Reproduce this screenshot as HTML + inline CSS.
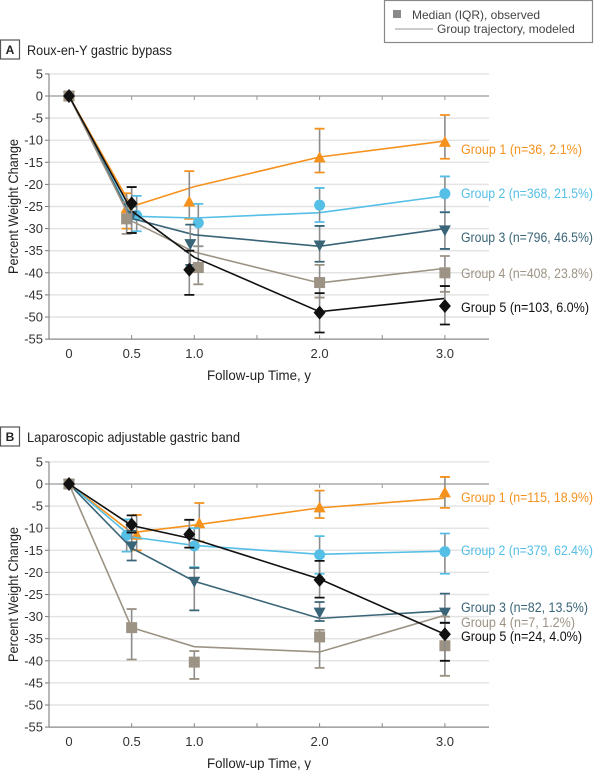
<!DOCTYPE html>
<html><head><meta charset="utf-8"><style>
html,body{margin:0;padding:0;background:#fff;}
svg{display:block;font-family:"Liberation Sans",Arial,sans-serif;}
</style></head><body>
<svg id="chart" width="600" height="770" viewBox="0 0 600 770">
<g>
<rect x="384.5" y="0.5" width="208" height="42" fill="#fff" stroke="#888" stroke-width="1.2"/>
<rect x="393" y="10" width="8" height="8" fill="#8a8a8a"/>
<text x="412" y="19" font-size="12" fill="#444">Median (IQR), observed</text>
<line x1="395" y1="29" x2="433" y2="29" stroke="#999" stroke-width="1"/>
<text x="437" y="33" font-size="12" fill="#444">Group trajectory, modeled</text>
</g>
</svg>
<script>
const years = [0, 0.5, 1.0, 2.0, 3.0];
const yTicks = [5,0,-5,-10,-15,-20,-25,-30,-35,-40,-45,-50,-55];
const xTickLabels = ["0","0.5","1.0","2.0","3.0"];
const groupNames = ["Group 1","Group 2","Group 3","Group 4","Group 5"];
// Panel A: Roux-en-Y
const aLabels = ["Group 1 (n=36,  2.1%)","Group 2 (n=368, 21.5%)","Group 3 (n=796, 46.5%)","Group 4 (n=408, 23.8%)","Group 5 (n=103,  6.0%)"];
const aObs1=[0,-25.5,-24,-14,-10.5], aLo1=[0,-30,-27.8,-17.3,-14.2], aHi1=[0,-22,-17,-7.4,-4.3], aMod1=[0,-25,-20.5,-13.8,-10.2];
const aObs2=[0,-27,-28.7,-24.7,-22.1], aLo2=[0,-30.6,-34,-28.5,-26.3], aHi2=[0,-22.6,-24.4,-20.8,-18.2], aMod2=[0,-27.2,-27.6,-26.4,-22.6];
const aObs3=[0,-27,-33.4,-33.7,-30.3], aLo3=[0,-31,-38.2,-37.5,-34.6], aHi3=[0,-25,-29.1,-29.4,-26.3], aMod3=[0,-27.7,-31.4,-34,-30];
const aObs4=[0,-27.8,-38.8,-42.2,-40], aLo4=[0,-31.2,-42.6,-45.6,-44.3], aHi4=[0,-24,-34,-38.2,-36.2], aMod4=[0,-28.3,-35.3,-42.3,-39];
const aObs5=[0,-24.3,-39.3,-49,-47.5], aLo5=[0,-31,-45,-53.5,-51.7], aHi5=[0,-20.6,-35,-44.6,-43], aMod5=[0,-26,-36.5,-48.8,-45.8];
// Panel B: Gastric band
const bLabels = ["Group 1 (n=115, 18.9%)","Group 2 (n=379, 62.4%)","Group 3 (n=82, 13.5%)","Group 4 (n=7,  1.2%)","Group 5 (n=24,  4.0%)"];
const bObs1=[0,-11.6,-9,-5.4,-2], bLo1=[0,-15,-13,-7.7,-5.4], bHi1=[0,-7,-4.3,-1.5,1.6], bMod1=[0,-11,-9.3,-5.4,-3.2];
const bObs2=[0,-11.6,-14,-16,-15.3], bLo2=[0,-15.3,-18.8,-20.3,-20.3], bHi2=[0,-8,-10,-11.8,-11.2], bMod2=[0,-12,-13.9,-15.9,-15.2];
const bObs3=[0,-14,-22,-29,-29], bLo3=[0,-17.3,-28.6,-31,-31.4], bHi3=[0,-10.6,-19,-26.7,-24.8], bMod3=[0,-14.5,-22,-30.4,-28.7];
const bObs4=[0,-32.5,-40.3,-34.6,-36.6], bLo4=[0,-39.7,-44.1,-41.6,-43.4], bHi4=[0,-28.3,-37.8,-33,-30], bMod4=[0,-32.5,-36.8,-38,-29.7];
const bObs5=[0,-9.2,-11.4,-21.7,-34], bLo5=[0,-11,-14.4,-25.7,-40], bHi5=[0,-7.1,-8.1,-17.4,-31.4], bMod5=[0,-9.4,-12.5,-21.5,-34];

const colors=["#f5921e","#55bfe6","#3a6477","#9c9384","#111111"];
const shapes=["tri","circle","tridown","square","diamond"];
const NS="http://www.w3.org/2000/svg";
const svg=document.getElementById('chart');
function mk(tag,attrs,parent){const e=document.createElementNS(NS,tag);for(const k in attrs)e.setAttribute(k,attrs[k]);(parent||svg).appendChild(e);return e;}

function drawPanel(cfg){
  const X0=69, PX=125.3, left=49, right=489;
  const xs=v=>X0+v*PX;
  const ys=v=>cfg.y0-v*(22.1/5);
  const g=mk('g',{});
  
  
  const b=mk('rect',{x:0.5,y:cfg.titleY-10,width:19,height:19,fill:'#fff',stroke:'#555','stroke-width':1.2},g);
  
  
  const bt=mk('text',{x:10,y:cfg.titleY+4,'font-size':12,'font-weight':'bold','text-anchor':'middle',fill:'#222'},g);
  bt.textContent=cfg.letter;
  
  
  const tt=mk('text',{x:27,y:cfg.titleY+5,'font-size':14,fill:'#222',textLength:cfg.titleLen,lengthAdjust:'spacingAndGlyphs'},g);
  tt.textContent=cfg.title;
  
  
  yTicks.forEach(t=>{
    const y=ys(t);
    if(t!==0 && t!==-55){const l=mk('line',{x1:left,x2:right,y1:y,y2:y,stroke:'#e4e4e4','stroke-width':1.5},g);
      
      }
    const tk=mk('line',{x1:left-4,x2:left,y1:y,y2:y,stroke:'#777'},g);
    
    
    const tx=mk('text',{x:left-6,y:y+4.5,'font-size':13,'text-anchor':'end',fill:'#333'},g);
    tx.textContent=String(t);
    
    
  });
  const zl=mk('line',{x1:left,x2:right,y1:ys(0),y2:ys(0),stroke:'#999','stroke-width':1.3},g);
  
  
  const ya=mk('line',{x1:left,x2:left,y1:ys(5),y2:ys(-55),stroke:'#888','stroke-width':1.2},g);
  
  
  const xa=mk('line',{x1:left,x2:right,y1:ys(-55),y2:ys(-55),stroke:'#888','stroke-width':1.2},g);
  
  
  for(let v=0.5;v<=3.01;v+=0.5){
    const t1=mk('line',{x1:xs(v),x2:xs(v),y1:ys(-55),y2:ys(-55)-4,stroke:'#888'},g);
    
    
    const t2=mk('line',{x1:xs(v),x2:xs(v),y1:ys(0),y2:ys(0)+4,stroke:'#999'},g);
    
    
  }
  years.forEach((v,i)=>{
    const tx=mk('text',{x:xs(v),y:ys(-55)+19,'font-size':13,'text-anchor':'middle',fill:'#333'},g);
    tx.textContent=xTickLabels[i];
    
    
  });
  const xt=mk('text',{x:259,y:ys(-55)+41,'font-size':14,'text-anchor':'middle',fill:'#222',textLength:104,lengthAdjust:'spacingAndGlyphs'},g);
  xt.textContent='Follow-up Time, y';
  
  
  const yt=mk('text',{x:0,y:0,'font-size':14,'text-anchor':'middle',fill:'#222',textLength:135,lengthAdjust:'spacingAndGlyphs',transform:`translate(18,${ys(-25)}) rotate(-90)`},g);
  yt.textContent='Percent Weight Change';
  
  
  cfg.groups.forEach((s,gi)=>{
    const c=colors[gi];
    const sg=mk('g',{},g);
    
    
    const pts=years.map((v,i)=>xs(v)+','+ys(s.mod[i])).join(' ');
    const pl=mk('polyline',{points:pts,fill:'none',stroke:c,'stroke-width':1.6},sg);
    
    
    years.forEach((v,i)=>{
      const jit=i===0?0:(cfg.jitter[gi][i]||0);
      const x=xs(v)+jit;
      if(i>0){
        const st=mk('line',{x1:x,x2:x,y1:ys(s.hi[i]),y2:ys(s.lo[i]),stroke:'#8c8c8c','stroke-width':1.6},sg);
        
        
        const eb=mk('path',{d:`M${x-5},${ys(s.hi[i])}H${x+5}M${x-5},${ys(s.lo[i])}H${x+5}`,stroke:c,'stroke-width':1.8,fill:'none'},sg);
        
        
      }
      const y=ys(s.obs[i]); const r=5.5; let m;
      const sh=shapes[gi];
      if(sh==='circle') m=mk('circle',{cx:x,cy:y,r:r,fill:c},sg);
      else if(sh==='square') m=mk('rect',{x:x-r,y:y-r,width:2*r,height:2*r,fill:c},sg);
      else if(sh==='tri') m=mk('polygon',{points:`${x},${y-r-1} ${x+r+0.5},${y+r-1} ${x-r-0.5},${y+r-1}`,fill:c},sg);
      else if(sh==='tridown') m=mk('polygon',{points:`${x},${y+r+1} ${x+r+0.5},${y-r+1} ${x-r-0.5},${y-r+1}`,fill:c},sg);
      else m=mk('polygon',{points:`${x},${y-r-1.5} ${x+r+0.5},${y} ${x},${y+r+1.5} ${x-r-0.5},${y}`,fill:c},sg);
      
      
    });
    const lb=mk('text',{x:461,y:cfg.labelY[gi]+5,'font-size':13.5,fill:c,textLength:cfg.labelLen[gi],lengthAdjust:'spacingAndGlyphs'},sg);
    lb.textContent=cfg.labels[gi];
    
    
  });
}
drawPanel({name:'panel-a-roux-en-y',letter:'A',title:'Roux-en-Y gastric bypass',titleLen:145,titleY:50,y0:96,
  labels:aLabels,labelY:[149,193,237,273,307],labelLen:[121,132,132,132,128],
  jitter:[[0,-5,-5,0,0],[0,5,4,0,0],[0,0,-4,0,0],[0,-5,4,0,0],[0,0,-5,0,0]],
  groups:[{obs:aObs1,lo:aLo1,hi:aHi1,mod:aMod1},{obs:aObs2,lo:aLo2,hi:aHi2,mod:aMod2},{obs:aObs3,lo:aLo3,hi:aHi3,mod:aMod3},{obs:aObs4,lo:aLo4,hi:aHi4,mod:aMod4},{obs:aObs5,lo:aLo5,hi:aHi5,mod:aMod5}]});
drawPanel({name:'panel-b-gastric-band',letter:'B',title:'Laparoscopic adjustable gastric band',titleLen:213,titleY:437,y0:484,
  labels:bLabels,labelY:[497,550,607,622,636],labelLen:[132,132,127,114,121],
  jitter:[[0,5,5,0,0],[0,-5,0,0,0],[0,0,0,0,0],[0,0,0,0,0],[0,0,-5,0,0]],
  groups:[{obs:bObs1,lo:bLo1,hi:bHi1,mod:bMod1},{obs:bObs2,lo:bLo2,hi:bHi2,mod:bMod2},{obs:bObs3,lo:bLo3,hi:bHi3,mod:bMod3},{obs:bObs4,lo:bLo4,hi:bHi4,mod:bMod4},{obs:bObs5,lo:bLo5,hi:bHi5,mod:bMod5}]});
</script>
</body></html>
